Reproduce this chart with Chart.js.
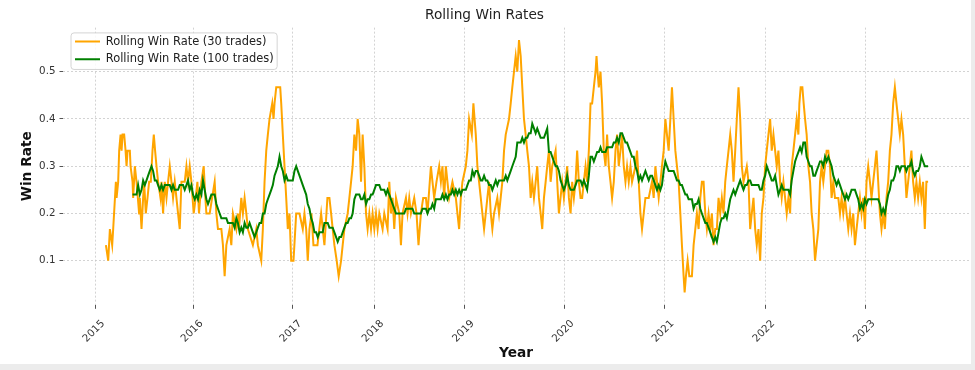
<!DOCTYPE html>
<html><head><meta charset="utf-8">
<script src="https://cdn.jsdelivr.net/npm/chart.js@4.4.1/dist/chart.umd.min.js"></script>
<style>
html,body{margin:0;padding:0;background:#ececec;}
#wrap{position:absolute;left:0;top:0;width:971px;height:364px;background:#fff;}
</style></head><body>
<div id="wrap"><canvas id="c"></canvas></div>
<script>
// Trade index (x) and rolling win rate over 30 trades
const tradeIdx30 = [
46,48.3,50,52.3,53.3,56,56.7,58.3,59.3,60.7,
61.7,62.7,64.3,65.7,66.7,67.7,70,70.7,72.7,73.3,
75,76.7,79.3,80,81.7,83.3,84.3,86,87.7,89.3,
91,92.7,94,95.3,96.7,98.3,100.7,101.7,103.3,105,
106.7,108.3,110,111.7,113.3,115,118.3,120,121.7,125,
126.7,128.3,130,131.7,134,136,137.7,139.3,141.7,144,
145.7,146.7,150,155,156.7,158.3,161.7,163.3,165,166.7,
170,171.7,173.3,176.7,178.3,179.3,181.7,183.3,185,186.7,
188.3,193.3,196.7,198.3,201.7,203.3,205,206.7,208.3,210,
212.7,214,215,216.7,220.7,221.7,223.3,225,226.7,228.3,
230,231.7,234,236.7,240,243.3,245,246.7,248.3,250,
252,254,258,261.7,265,268,270,271.7,273.3,275,
277.3,279.3,281.7,283.3,285,288.3,290,291.7,293.3,295,
296.7,298.3,300,301.7,303.3,305,306.7,308.3,310,311.7,
313.3,315,316.7,318.3,320,323.3,325,328.3,330,331.7,
333.3,335,336.7,340,341.7,343.3,346.7,348.3,350,351.7,
355,357.3,359.3,361.7,364,366.7,368.3,371.7,373.3,375,
377.3,380,381.7,383.3,385,386.7,388.3,390,393.3,396.7,
398.3,400,401.7,403.3,406.7,408.3,410,412.7,414.3,416.7,
418.3,420,421.7,423.3,425,426.7,428.3,430,431.7,433.3,
435,438.3,440,443.3,445,446.7,450,451.7,453.3,455,
456.7,458.3,460,461.7,463.3,465,466.7,468.3,470,471.7,
473.3,475,476.7,478.3,480,481.7,483.3,485,486.7,488.3,
490,491.7,493.3,496.7,498.3,500,503.3,505,506.7,508.3,
510,511.7,513.3,515,516.7,518.3,520,521.7,523.3,525,
526.7,528.3,530,531.7,533.3,535,536.7,537.7,538.7,540,
541.7,543.3,545,546.7,548.3,550,551.7,553.3,555,556.7,
558.3,560,561.7,563.3,565,566.7,568.3,570,571.7,573.3,
576.7,578.3,580,581.7,583.3,585,586.7,590,593.3,595,
596.7,598.3,600,601.7,603.3,605,606.7,608.3,610,611.7,
613.3,615,616.7,618.3,620,621.7,623.3,625,626,627.3,
629,630.7,633.3,635,636.7,638.3,640,641.7,643.3,645,
646.7,648.3,650,651.7,653.3,655,656.7,658.3,660,661.7,
663.3,665,666.7,668.3,670,671.7,673.3,675,676.7,678.3,
680,681.7,683.3,685,688.3,690,691.7,693.3,695,696.7,
698.3,700,701.7,703.3,705,706.7,708.3,710,711.7,713.3,
715,716.7,718.3,720,721.7,723.3,725,726.7,728.3,730,
731.7,733.3,735,736.7,738.3,740,741,742.3,744,745.3,
746.7,748.3,750,751.7,753.3,755,756.7,758.3,760,761.7,
763.3,765,766.7,768.3,770,771.7,773.3,775,776.7,780,
781.7,783.3,785,786.7,788.3,790,791.7,793.3,795,796.7,
798.3,800,801.7,803.3,805,806.7,808.3,810,811.7,813.3,
815,816.7,818.3,820,821.7,823.3,825,826.7,828.3,830,
831.7,833.3,835,836.7,838.3,840,841.7,843.3,845,846.7,
848.3,850,851.7,853.3,855,856.7,858.3,860,861.7,863.3,
865,866.7,868.3,870];
const winRate30 = [
.133,.1,.167,.133,.167,.267,.233,.267,.333,.367,
.333,.367,.367,.333,.3,.333,.333,.3,.267,.233,
.3,.267,.2,.233,.167,.233,.267,.2,.233,.267,
.267,.333,.367,.333,.3,.267,.233,.267,.2,.267,
.233,.267,.3,.267,.233,.267,.2,.167,.267,.267,
.3,.267,.3,.267,.2,.233,.267,.2,.267,.3,
.233,.2,.2,.267,.2,.167,.167,.133,.067,.133,
.167,.133,.2,.167,.2,.167,.233,.2,.233,.2,
.167,.133,.167,.133,.1,.167,.267,.333,.367,.4,
.433,.4,.433,.467,.467,.433,.367,.3,.233,.167,
.2,.1,.1,.2,.2,.167,.2,.167,.1,.167,
.2,.133,.133,.2,.133,.233,.233,.2,.167,.133,
.1,.067,.1,.133,.167,.2,.233,.267,.3,.367,
.333,.4,.367,.267,.367,.3,.2,.167,.2,.167,
.2,.167,.2,.167,.2,.167,.2,.167,.267,.2,
.233,.167,.233,.2,.133,.2,.233,.2,.233,.2,
.233,.2,.133,.2,.233,.233,.2,.3,.267,.233,
.267,.3,.267,.3,.233,.3,.267,.233,.267,.233,
.2,.167,.233,.267,.3,.333,.4,.367,.433,.367,
.3,.267,.233,.2,.167,.2,.233,.267,.2,.167,
.2,.233,.2,.267,.333,.367,.4,.433,.467,.5,
.533,.5,.567,.533,.467,.4,.367,.333,.3,.233,
.267,.233,.267,.3,.233,.2,.167,.233,.267,.3,
.333,.267,.3,.333,.267,.2,.267,.233,.267,.3,
.233,.2,.267,.233,.267,.333,.267,.233,.233,.267,
.3,.267,.333,.433,.433,.467,.5,.533,.5,.467,
.5,.433,.333,.3,.367,.3,.267,.233,.267,.333,
.367,.3,.333,.367,.3,.267,.3,.267,.3,.267,
.3,.333,.267,.2,.167,.2,.233,.233,.267,.233,
.3,.267,.233,.267,.3,.333,.4,.367,.333,.4,
.467,.4,.333,.3,.267,.2,.133,.067,.033,.067,
.1,.067,.067,.133,.167,.2,.167,.233,.267,.267,
.2,.167,.2,.167,.2,.133,.167,.167,.233,.2,
.233,.2,.267,.3,.333,.367,.333,.267,.333,.4,
.467,.4,.3,.267,.3,.267,.167,.2,.233,.167,
.133,.167,.1,.2,.233,.3,.333,.367,.4,.333,
.367,.333,.3,.333,.267,.233,.267,.233,.2,.233,
.2,.3,.333,.367,.4,.367,.433,.467,.467,.433,
.4,.367,.3,.267,.2,.167,.1,.133,.167,.267,
.3,.267,.3,.333,.333,.3,.233,.267,.233,.233,
.2,.233,.2,.233,.2,.167,.2,.167,.2,.133,
.167,.2,.233,.2,.233,.167,.267,.3,.267,.233,
.267,.3,.333,.267,.2,.167,.2,.167,.233,.267,
.333,.367,.433,.467,.433,.4,.367,.4,.367,.3,
.233,.267,.3,.333,.267,.233,.267,.233,.267,.233,
.267,.167,.267,.267];
// Trade index (x) and rolling win rate over 100 trades
const tradeIdx100 = [
72.7,76.7,78.3,80,81.7,83.3,85,86.7,88.3,90,
91.7,93.3,95,96.7,98.3,100,101.7,103.3,105,106.7,
108.3,110,111.7,113.3,115,116.7,118.3,120,121.7,123.3,
125,126.7,128.3,130,131.7,133.3,135,136.7,138.3,140,
141.7,143.3,145,146.7,148.3,150,151.7,153.3,155,156.7,
158.3,160,161.7,163.3,165,166.7,168.3,170,171.7,173.3,
175,176.7,178.3,180,181.7,183.3,185,186.7,188.3,190,
193.3,195,196.7,198.3,200,201.7,203.3,205,206.7,208.3,
210,211.7,213.3,215,216.7,218.3,220,221.7,223.3,225,
226.7,228.3,230,231.7,233.3,235,236.7,238.3,240,243.3,
245,246.7,248.3,250,251.7,253.3,255,256.7,258.3,260,
261.7,263.3,265,266.7,268.3,270,273.3,275,276.7,278.3,
280,281.7,283.3,285,286.7,288.3,290,291.7,293.3,295,
296.7,298.3,300,301.7,303.3,305,306.7,308.3,310,311.7,
313.3,315,316.7,318.3,320,321.7,323.3,325,326.7,328.3,
330,331.7,333.3,335,336.7,338.3,340,341.7,343.3,345,
346.7,348.3,350,351.7,353.3,355,356.7,358.3,360,361.7,
363.3,365,366.7,368.3,370,371.7,373.3,375,376.7,378.3,
380,381.7,383.3,385,386.7,388.3,390,391.7,393.3,395,
396.7,398.3,400,401.7,403.3,405,406.7,408.3,410,411.7,
413.3,415,416.7,418.3,420,421.7,423.3,425,426.7,428.3,
430,431.7,433.3,435,436.7,438.3,440,441.7,443.3,445,
446.7,448.3,450,451.7,453.3,455,456.7,458.3,460,461.7,
463.3,465,466.7,468.3,470,471.7,473.3,475,476.7,478.3,
480,481.7,483.3,485,486.7,488.3,490,491.7,493.3,495,
496.7,498.3,500,501.7,503.3,505,506.7,508.3,510,511.7,
513.3,515,516.7,518.3,520,521.7,523.3,525,526.7,528.3,
530,531.7,533.3,535,536.7,538.3,540,541.7,543.3,545,
546.7,548.3,550,551.7,553.3,555,556.7,558.3,560,561.7,
563.3,565,566.7,568.3,570,571.7,573.3,575,576.7,578.3,
580,581.7,583.3,585,586.7,588.3,590,591.7,593.3,595,
596.7,598.3,600,601.7,603.3,605,606.7,608.3,610,611.7,
613.3,615,616.7,618.3,620,621.7,623.3,625,626.7,628.3,
630,631.7,633.3,635,636.7,638.3,640,641.7,643.3,645,
646.7,648.3,650,651.7,653.3,655,656.7,658.3,660,661.7,
663.3,665,666.7,668.3,670,671.7,673.3,675,676.7,678.3,
680,681.7,683.3,685,686.7,688.3,690,691.7,693.3,695,
696.7,698.3,700,701.7,703.3,705,706.7,708.3,710,711.7,
713.3,715,716.7,718.3,720,721.7,723.3,725,726.7,728.3,
730,731.7,733.3,735,736.7,738.3,740,741.7,743.3,745,
746.7,748.3,750,751.7,753.3,755,756.7,758.3,760,761.7,
763.3,765,766.7,768.3,770,771.7,773.3,775,776.7,778.3,
780,781.7,783.3,785,786.7,788.3,790,791.7,793.3,795,
796.7,798.3,800,801.7,803.3,805,806.7,808.3,810,811.7,
813.3,815,816.7,818.3,820,821.7,823.3,825,826.7,828.3,
830,831.7,833.3,835,836.7,838.3,840,841.7,843.3,845,
846.7,848.3,850,851.7,853.3,855,856.7,858.3,860,861.7,
863.3,865,866.7,868.3,870];
const winRate100 = [
.24,.24,.26,.24,.25,.27,.26,.27,.28,.29,
.30,.29,.27,.27,.26,.25,.26,.25,.26,.26,
.26,.26,.25,.26,.25,.25,.25,.26,.26,.26,
.25,.26,.27,.25,.26,.24,.23,.24,.23,.25,
.24,.27,.25,.23,.22,.23,.24,.24,.24,.22,
.21,.20,.19,.19,.19,.19,.18,.18,.18,.18,
.17,.19,.18,.16,.17,.16,.18,.17,.17,.18,
.16,.15,.16,.17,.18,.18,.20,.20,.22,.23,
.24,.25,.26,.28,.29,.30,.32,.30,.29,.27,
.28,.27,.27,.27,.27,.29,.30,.29,.28,.26,
.25,.24,.22,.21,.19,.18,.16,.16,.15,.16,
.16,.16,.18,.18,.18,.17,.17,.16,.15,.14,
.15,.15,.16,.17,.18,.18,.19,.19,.20,.23,
.24,.24,.24,.23,.23,.24,.22,.23,.23,.24,
.24,.25,.26,.26,.26,.25,.25,.25,.24,.25,
.24,.23,.22,.21,.20,.20,.20,.20,.20,.20,
.21,.21,.21,.21,.21,.20,.20,.20,.20,.20,
.21,.21,.21,.20,.21,.21,.22,.21,.23,.23,
.23,.23,.24,.23,.24,.23,.24,.24,.25,.24,
.25,.24,.25,.24,.25,.25,.25,.26,.27,.27,
.29,.28,.29,.29,.28,.27,.27,.28,.27,.27,
.26,.26,.25,.26,.27,.26,.27,.27,.27,.27,
.28,.27,.28,.29,.30,.31,.32,.35,.35,.35,
.36,.35,.36,.36,.37,.37,.39,.38,.37,.38,
.37,.36,.36,.36,.37,.38,.33,.33,.32,.31,
.30,.30,.29,.27,.26,.25,.26,.28,.26,.25,
.25,.25,.26,.27,.27,.27,.26,.27,.26,.25,
.28,.32,.32,.31,.32,.33,.33,.34,.33,.33,
.33,.34,.34,.34,.34,.35,.35,.36,.35,.37,
.37,.36,.35,.35,.34,.33,.32,.32,.30,.29,
.27,.28,.27,.28,.29,.28,.27,.28,.28,.27,
.26,.25,.26,.25,.26,.29,.31,.30,.29,.29,
.29,.29,.28,.27,.27,.26,.26,.25,.24,.24,
.23,.23,.23,.21,.22,.22,.23,.21,.20,.19,
.18,.18,.17,.16,.15,.14,.15,.14,.16,.18,
.19,.19,.20,.19,.21,.23,.24,.25,.24,.25,
.26,.27,.26,.25,.26,.26,.27,.27,.26,.26,
.26,.26,.26,.25,.25,.27,.28,.30,.29,.28,
.27,.27,.28,.26,.24,.25,.26,.25,.25,.25,
.25,.24,.27,.29,.31,.32,.33,.34,.33,.35,
.35,.32,.31,.30,.30,.28,.28,.29,.30,.31,
.31,.30,.32,.31,.32,.31,.30,.28,.27,.26,
.27,.26,.25,.24,.23,.24,.23,.24,.25,.25,
.25,.24,.23,.21,.22,.21,.23,.22,.23,.23,
.23,.23,.23,.23,.23,.22,.20,.21,.20,.22,
.24,.25,.27,.27,.28,.30,.30,.29,.30,.30,
.30,.29,.30,.30,.31,.29,.28,.29,.29,.30,
.32,.31,.30,.30,.30];
// Axis: first trade of each calendar year, and labels
const yearTickPos = [35.3,133.7,232.7,315,405.7,505.7,605.7,706.7,807.3];
const yearLabels = ['2015','2016','2017','2018','2019','2020','2021','2022','2023'];
const winRateTicks = [0.1,0.2,0.3,0.4,0.5];
const xLimits = [3, 911];
const yLimits = [0.0067, 0.5933];

const ORANGE = '#FFA500', GREEN = '#008000';
Chart.defaults.font.family = "'DejaVu Sans', sans-serif";

const toPoints = (xs, ys) => xs.map((x, i) => ({x, y: ys[i]}));

const legendFrame = {
  id: 'legendFrame',
  beforeDraw(chart) {
    const lg = chart.legend;
    if (!lg || lg.__framed) return;
    lg.__framed = true;
    const orig = lg.draw;
    lg.draw = function(...args) {
      const ctx = chart.ctx, hb = this.legendHitBoxes || [];
      ctx.save();
      if (hb.length) {
        const dx = 75 - hb[0].left, dy = 35.9 - hb[0].top;
        ctx.translate(dx, dy);
        const l = Math.min(...hb.map(h => h.left)) - 4;
        const r = Math.max(...hb.map(h => h.left + h.width)) + 3.5;
        const t = Math.min(...hb.map(h => h.top)) - 3;
        const b = Math.max(...hb.map(h => h.top + h.height)) + 4.5;
        ctx.beginPath();
        if (ctx.roundRect) ctx.roundRect(l, t, r - l, b - t, 3); else ctx.rect(l, t, r - l, b - t);
        ctx.fillStyle = 'rgba(255,255,255,0.85)';
        ctx.fill();
        ctx.strokeStyle = '#d4d4d4';
        ctx.lineWidth = 1;
        ctx.stroke();
      }
      orig.apply(this, args);
      ctx.restore();
    };
  }
};

new Chart(document.getElementById('c'), {
  type: 'line',
  data: {
    datasets: [
      {label: 'Rolling Win Rate (30 trades)', data: toPoints(tradeIdx30, winRate30),
       borderColor: ORANGE, backgroundColor: ORANGE, borderWidth: 2, pointRadius: 0, tension: 0, fill: false, order: 1},
      {label: 'Rolling Win Rate (100 trades)', data: toPoints(tradeIdx100, winRate100),
       borderColor: GREEN, backgroundColor: GREEN, borderWidth: 2, pointRadius: 0, tension: 0, fill: false, order: 0}
    ]
  },
  options: {
    responsive: true, maintainAspectRatio: false, animation: false,
    layout: {padding: {left: 0, right: 2, top: 0, bottom: 0}},
    plugins: {
      title: {display: true, text: 'Rolling Win Rates', color: '#222',
              font: {size: 13.7, weight: 'normal'}, padding: {top: 6.8, bottom: 4.4}},
      legend: {position: 'chartArea', align: 'start',
        labels: {boxWidth: 25, boxHeight: 2, padding: 6.16, color: '#222', font: {size: 11.44},
          sort: (a, b) => a.datasetIndex - b.datasetIndex,
          generateLabels: (chart) => {
            const items = Chart.defaults.plugins.legend.labels.generateLabels(chart);
            items.forEach(it => { it.fillStyle = it.strokeStyle; it.lineWidth = 0; });
            return items;
          }}},
      tooltip: {enabled: false}
    },
    scales: {
      x: {type: 'linear', min: xLimits[0], max: xLimits[1],
        afterBuildTicks: s => { s.ticks = yearTickPos.map(v => ({value: v})); },
        afterFit: s => { s.height = 59.2; s.paddingLeft = 0; s.paddingRight = 0; },
        ticks: {autoSkip: false, minRotation: 45, maxRotation: 45, labelOffset: 8, padding: 8.8,
                color: '#333', font: {size: 10.3}, callback: (v, i) => yearLabels[i]},
        grid: {color: '#c8c8c8', lineWidth: 0.8, z: -1, tickLength: 4, tickColor: '#555', tickWidth: 1},
        border: {display: false, dash: [2, 2]},
        title: {display: true, text: 'Year', color: '#111', font: {size: 13.7, weight: 'bold'}, padding: {top: 0, bottom: 2.8}}
      },
      y: {type: 'linear', min: yLimits[0], max: yLimits[1],
        afterBuildTicks: s => { s.ticks = winRateTicks.map(v => ({value: v})); },
        afterFit: s => { s.width = 63; s.paddingTop = 0; s.paddingBottom = 0; },
        ticks: {padding: 4, color: '#333', font: {size: 10.3}, callback: v => Number(v).toFixed(1)},
        grid: {color: '#c8c8c8', lineWidth: 0.8, z: -1, tickLength: 3.5, tickColor: '#555', tickWidth: 1},
        border: {display: false, dash: [2, 2]},
        title: {display: true, text: 'Win Rate', color: '#111', font: {size: 13.7, weight: 'bold'}, padding: {top: 18.8, bottom: 0}}
      }
    }
  },
  plugins: [legendFrame]
});
</script>
</body></html>
